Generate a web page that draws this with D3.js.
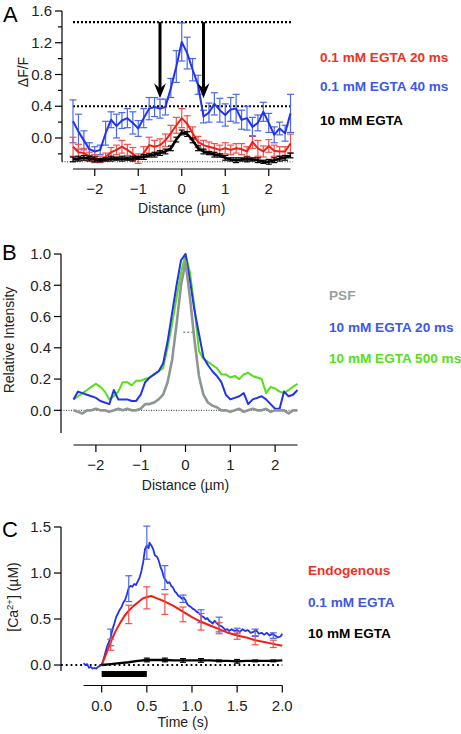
<!DOCTYPE html>
<html><head><meta charset="utf-8">
<script src="https://cdn.jsdelivr.net/npm/d3@7"></script>
<style>
body{margin:0;background:#fff;}
svg{display:block;font-family:"Liberation Sans",Arial,Helvetica,sans-serif;}
</style></head><body>
<svg id="c" width="461" height="734"></svg>
<script>
// ---------- Panel A data ----------
const distanceA = [-2.5,-2.375,-2.25,-2.125,-2.0,-1.875,-1.75,-1.625,-1.5,-1.375,-1.25,-1.125,-1.0,-0.875,-0.75,-0.625,-0.5,-0.375,-0.25,-0.125,0,0.125,0.25,0.375,0.5,0.625,0.75,0.875,1.0,1.125,1.25,1.375,1.5,1.625,1.75,1.875,2.0,2.125,2.25,2.375,2.5];
const blueA = [0.21,0.08,-0.03,-0.14,-0.17,-0.15,0.06,0.23,0.15,0.22,0.25,0.19,0.12,0.25,0.37,0.39,0.37,0.39,0.63,0.90,1.21,1.07,0.86,0.67,0.27,0.32,0.43,0.35,0.29,0.36,0.37,0.23,0.25,0.14,0.19,0.33,0.19,0.04,0.12,0.06,0.31];
const blueAErr = [0.27,0.22,0.12,0.08,0.06,0.06,0.15,0.10,0.15,0.10,0.12,0.14,0.10,0.12,0.14,0.12,0.12,0.10,0.12,0.20,0.24,0.20,0.14,0.12,0.08,0.12,0.14,0.15,0.14,0.15,0.18,0.12,0.15,0.12,0.10,0.12,0.12,0.10,0.08,0.10,0.24];
const redA = [-0.11,-0.18,-0.19,-0.23,-0.26,-0.27,-0.24,-0.18,-0.15,-0.11,-0.15,-0.20,-0.26,-0.19,-0.09,-0.11,-0.09,-0.03,0.06,0.16,0.25,0.18,0.06,-0.05,-0.09,-0.11,-0.13,-0.15,-0.13,-0.15,-0.13,-0.14,-0.17,-0.05,-0.13,-0.17,-0.10,-0.16,-0.17,-0.17,-0.07];
const redAErr = [0.12,0.10,0.06,0.05,0.05,0.04,0.05,0.06,0.06,0.08,0.07,0.08,0.06,0.08,0.10,0.08,0.08,0.08,0.10,0.10,0.12,0.10,0.08,0.07,0.06,0.06,0.06,0.06,0.07,0.06,0.06,0.07,0.06,0.08,0.10,0.07,0.08,0.07,0.06,0.06,0.12];
const blackA = [-0.27,-0.26,-0.25,-0.26,-0.27,-0.28,-0.27,-0.26,-0.26,-0.26,-0.26,-0.26,-0.25,-0.24,-0.22,-0.21,-0.19,-0.17,-0.13,-0.02,0.07,0.05,-0.03,-0.13,-0.17,-0.19,-0.21,-0.22,-0.25,-0.27,-0.28,-0.27,-0.27,-0.27,-0.28,-0.30,-0.30,-0.28,-0.26,-0.25,-0.22];
const blackAErr = [0.03,0.03,0.03,0.03,0.03,0.02,0.02,0.03,0.02,0.03,0.02,0.03,0.02,0.03,0.02,0.03,0.03,0.03,0.03,0.03,0.03,0.03,0.03,0.03,0.03,0.02,0.03,0.02,0.03,0.02,0.03,0.02,0.03,0.02,0.03,0.02,0.03,0.03,0.03,0.03,0.03];
const yTicksA = [1.6,1.2,0.8,0.4,0.0];
const yMinorA = [1.4,1.0,0.6,0.2,-0.2];
const xTicksAB = [-2,-1,0,1,2];
const refLinesA = [1.46,0.4];
const arrowsA = [-0.5,0.5];
const legendA = ["0.1 mM EGTA 20 ms","0.1 mM EGTA 40 ms","10 mM EGTA"];

// ---------- Panel B data ----------
const distanceB = [-2.5,-2.4,-2.3,-2.2,-2.1,-2.0,-1.9,-1.8,-1.7,-1.6,-1.5,-1.4,-1.3,-1.2,-1.1,-1.0,-0.9,-0.8,-0.7,-0.6,-0.5,-0.4,-0.3,-0.2,-0.1,0,0.1,0.2,0.3,0.4,0.5,0.6,0.7,0.8,0.9,1.0,1.1,1.2,1.3,1.4,1.5,1.6,1.7,1.8,1.9,2.0,2.1,2.2,2.3,2.4,2.5];
const psfB = [0.0,-0.01,-0.02,0.0,0.0,0.01,0.0,0.0,-0.01,0.0,0.01,0.0,0.01,0.0,0.0,0.01,0.04,0.04,0.05,0.07,0.10,0.18,0.32,0.55,0.80,0.95,0.72,0.45,0.22,0.10,0.05,0.03,0.02,0.0,0.0,-0.01,0.0,0.01,-0.01,0.0,0.01,0.0,0.0,0.01,-0.01,0.0,0.0,0.0,-0.02,0.0,0.0];
const blue20B = [0.07,0.12,0.11,0.10,0.09,0.08,0.06,0.05,0.04,0.13,0.07,0.07,0.07,0.06,0.06,0.10,0.18,0.21,0.23,0.25,0.30,0.44,0.62,0.80,0.96,1.00,0.83,0.64,0.49,0.34,0.29,0.25,0.22,0.18,0.10,0.07,0.08,0.09,0.11,0.04,0.07,0.08,0.09,0.07,0.04,0.01,0.01,0.12,0.09,0.10,0.13];
const green500B = [0.07,0.09,0.11,0.13,0.15,0.17,0.15,0.12,0.07,0.09,0.12,0.18,0.18,0.16,0.19,0.19,0.20,0.21,0.23,0.25,0.27,0.40,0.55,0.72,0.88,1.00,0.88,0.66,0.38,0.33,0.31,0.29,0.27,0.23,0.23,0.21,0.22,0.20,0.23,0.24,0.22,0.21,0.20,0.11,0.15,0.14,0.12,0.11,0.13,0.15,0.17];
const halfMaxB = [[-0.05,0.5],[0.2,0.5]];
const yTicksB = [1.0,0.8,0.6,0.4,0.2,0.0];
const legendB = ["PSF","10 mM EGTA 20 ms","10 mM EGTA 500 ms"];

// ---------- Panel C data ----------
const timeRed = [0,0.05,0.1,0.15,0.2,0.25,0.3,0.35,0.4,0.45,0.5,0.55,0.6,0.7,0.8,0.9,1.0,1.1,1.2,1.3,1.4,1.5,1.6,1.7,1.8,1.9,2.0];
const endoRed = [0.0,0.12,0.25,0.36,0.45,0.53,0.59,0.64,0.68,0.72,0.74,0.75,0.73,0.69,0.64,0.58,0.52,0.47,0.43,0.39,0.35,0.32,0.30,0.27,0.25,0.23,0.21];
const errTimeC = [0.1,0.3,0.5,0.7,0.9,1.1,1.3,1.5,1.7,1.9];
const redErrMean = [0.22,0.55,0.73,0.66,0.55,0.47,0.40,0.32,0.27,0.23];
const redErr = [0.06,0.10,0.12,0.11,0.08,0.09,0.06,0.04,0.05,0.04];
const blueErrMean = [0.30,0.83,1.33,0.95,0.72,0.53,0.44,0.37,0.35,0.32];
const blueErr = [0.09,0.14,0.18,0.13,0.04,0.07,0.08,0.03,0.04,0.03];
const timeBlue = [-0.20,-0.18,-0.16,-0.14,-0.12,-0.10,-0.08,-0.06,-0.04,-0.02,0.00,0.02,0.04,0.06,0.08,0.10,0.12,0.14,0.16,0.18,0.20,0.22,0.24,0.26,0.28,0.30,0.32,0.34,0.36,0.38,0.40,0.42,0.44,0.46,0.48,0.50,0.52,0.53,0.55,0.57,0.59,0.61,0.63,0.65,0.67,0.69,0.71,0.73,0.75,0.77,0.79,0.81,0.83,0.85,0.87,0.89,0.91,0.93,0.95,0.97,0.99,1.01,1.03,1.05,1.07,1.09,1.11,1.13,1.15,1.17,1.19,1.21,1.23,1.25,1.27,1.29,1.31,1.33,1.35,1.37,1.39,1.41,1.44,1.47,1.50,1.53,1.56,1.59,1.62,1.65,1.68,1.71,1.74,1.77,1.80,1.83,1.86,1.89,1.92,1.95,1.98,2.00];
const egta01Blue = [0.02,0.00,0.01,-0.03,-0.02,-0.04,-0.03,-0.04,-0.02,-0.01,0.00,0.06,0.13,0.20,0.25,0.30,0.39,0.45,0.52,0.56,0.60,0.63,0.68,0.71,0.77,0.84,0.86,0.85,0.88,0.87,0.91,0.95,1.02,1.12,1.26,1.30,1.27,1.33,1.30,1.26,1.19,1.18,1.14,1.07,1.02,0.95,0.92,0.89,0.90,0.86,0.84,0.80,0.78,0.75,0.74,0.72,0.73,0.70,0.66,0.64,0.63,0.61,0.60,0.58,0.57,0.55,0.53,0.52,0.50,0.51,0.48,0.47,0.45,0.48,0.46,0.44,0.43,0.42,0.40,0.38,0.39,0.37,0.39,0.37,0.38,0.36,0.39,0.37,0.38,0.35,0.36,0.38,0.34,0.35,0.33,0.35,0.32,0.34,0.32,0.30,0.31,0.34];
const timeBlack = [0,0.1,0.2,0.3,0.4,0.5,0.6,0.7,0.8,0.9,1.0,1.1,1.2,1.3,1.4,1.5,1.6,1.7,1.8,1.9,2.0];
const egta10Black = [0,0.01,0.02,0.03,0.045,0.055,0.055,0.055,0.05,0.05,0.05,0.05,0.05,0.045,0.045,0.04,0.045,0.045,0.045,0.045,0.05];
const blackErrTime = [0.5,0.7,0.9,1.1,1.3,1.5,1.7,1.9];
const blackErrMean = [0.055,0.055,0.05,0.05,0.045,0.04,0.045,0.045];
const blackErr = [0.02,0.02,0.02,0.02,0.01,0.02,0.01,0.01];
const stimulus = [0,0.5];
const yTicksC = [1.5,1.0,0.5,0.0];
const xTicksC = [0.0,0.5,1.0,1.5,2.0];
const legendC = ["Endogenous","0.1 mM EGTA","10 mM EGTA"];

// ---------- colours ----------
const C_BLUE = "#2233ea", C_BLUE_T = "#3b58ea", C_BLUE_E = "#4a68ee";
const C_RED = "#f01e14", C_RED_T = "#f3301e", C_RED_E = "#f2504a";
const C_GREEN = "#55e014", C_GRAY = "#8d9595", C_GRAY_T = "#9a9e9e";
const FS = 15, FT = 14, FL = 13.6;

const svg = d3.select("#c");

function yAxis(g, y, x0, ticks, fmt, minor){
  g.append("line").attr("x1",x0).attr("x2",x0).attr("y1",y.range()[1]).attr("y2",y.range()[0]).attr("stroke","#000").attr("stroke-width",1.2);
  ticks.forEach(v=>{
    g.append("line").attr("x1",x0-7).attr("x2",x0).attr("y1",y(v)).attr("y2",y(v)).attr("stroke","#000").attr("stroke-width",1.2);
    g.append("text").attr("x",x0-10).attr("y",y(v)).attr("dy","0.35em").attr("text-anchor","end").attr("font-size",FS).attr("fill","#222").text(fmt(v));
  });
  (minor||[]).forEach(v=>{
    g.append("line").attr("x1",x0-4).attr("x2",x0).attr("y1",y(v)).attr("y2",y(v)).attr("stroke","#000").attr("stroke-width",1.2);
  });
}
function xAxis(g, x, yLine, ticks, fmt){
  g.append("line").attr("x1",x.range()[0]).attr("x2",x.range()[1]).attr("y1",yLine).attr("y2",yLine).attr("stroke","#000").attr("stroke-width",1.2);
  ticks.forEach(v=>{
    g.append("line").attr("x1",x(v)).attr("x2",x(v)).attr("y1",yLine).attr("y2",yLine+7).attr("stroke","#000").attr("stroke-width",1.2);
    g.append("text").attr("x",x(v)).attr("y",yLine+25).attr("text-anchor","middle").attr("font-size",FS).attr("fill","#222").text(fmt(v));
  });
}
function errBars(g, x, y, xs, ms, es, color, w, cap){
  xs.forEach((xv,i)=>{
    const px = x(xv), top = y(ms[i]+es[i]), bot = y(ms[i]-es[i]);
    g.append("line").attr("x1",px).attr("x2",px).attr("y1",top).attr("y2",bot).attr("stroke",color).attr("stroke-width",w);
    g.append("line").attr("x1",px-cap).attr("x2",px+cap).attr("y1",top).attr("y2",top).attr("stroke",color).attr("stroke-width",w);
    g.append("line").attr("x1",px-cap).attr("x2",px+cap).attr("y1",bot).attr("y2",bot).attr("stroke",color).attr("stroke-width",w);
  });
}
function line(g, x, y, xs, ys, color, w){
  g.append("path").datum(xs.map((v,i)=>[v,ys[i]]))
    .attr("d", d3.line().x(d=>x(d[0])).y(d=>y(d[1])))
    .attr("fill","none").attr("stroke",color).attr("stroke-width",w).attr("stroke-linejoin","round");
}
function legend(g, x0, ys, labels, colors){
  labels.forEach((t,i)=>g.append("text").attr("x",x0).attr("y",ys[i]).attr("dy","0.35em").attr("font-size",FL).attr("font-weight","bold").attr("fill",colors[i]).text(t));
}
function panelLabel(t, x, y){ svg.append("text").attr("x",x).attr("y",y).attr("font-size",22).text(t); }

// ================= Panel A =================
{
  const g = svg.append("g");
  const x = d3.scaleLinear().domain([-2.5,2.5]).range([73,290.5]);
  const y = d3.scaleLinear().domain([-0.3,1.6]).range([161.8,11]);
  yAxis(g, y, 62, yTicksA, d3.format(".1f"), yMinorA);
  xAxis(g, x, 169, xTicksAB, d3.format("d"));
  g.append("text").attr("x",x(0)).attr("y",213).attr("text-anchor","middle").attr("font-size",FT).attr("fill","#222").text("Distance (µm)");
  g.append("text").attr("transform","translate(28,72) rotate(-90)").attr("text-anchor","middle").attr("font-size",FT).attr("fill","#222").text("ΔF/F");
  g.append("line").attr("x1",62).attr("x2",x(2.5)+2).attr("y1",y(-0.3)).attr("y2",y(-0.3)).attr("stroke","#000").attr("stroke-width",0.8).attr("stroke-dasharray","1,1.5");
  refLinesA.forEach(v=>g.append("line").attr("x1",x(-2.5)).attr("x2",x(2.5)+2).attr("y1",y(v)).attr("y2",y(v)).attr("stroke","#000").attr("stroke-width",2.2).attr("stroke-dasharray","2,2"));
  errBars(g, x, y, distanceA, blueA, blueAErr, C_BLUE_E, 1.2, 3.5);
  line(g, x, y, distanceA, blueA, C_BLUE, 2);
  errBars(g, x, y, distanceA, redA, redAErr, C_RED_E, 1.2, 3.5);
  line(g, x, y, distanceA, redA, C_RED, 2);
  errBars(g, x, y, distanceA, blackA, blackAErr, "#000", 1.2, 3);
  line(g, x, y, distanceA, blackA, "#000", 2.6);
  arrowsA.forEach(v=>{
    const px = x(v), tip = y(0.5);
    g.append("line").attr("x1",px).attr("x2",px).attr("y1",y(1.46)).attr("y2",tip-10).attr("stroke","#000").attr("stroke-width",3);
    g.append("path").attr("d",`M${px-6},${tip-15} L${px},${tip} L${px+6},${tip-15} L${px},${tip-10} Z`).attr("fill","#000");
  });
  legend(g, 320, [57,86,120], legendA, [C_RED_T, C_BLUE_T, "#000"]);
}
panelLabel("A", 3, 22);

// ================= Panel B =================
{
  const g = svg.append("g");
  const x = d3.scaleLinear().domain([-2.5,2.5]).range([73.5,297.5]);
  const y = d3.scaleLinear().domain([-0.145,1.0]).range([433,254]);
  yAxis(g, y, 61, yTicksB, d3.format(".1f"));
  xAxis(g, x, 445, xTicksAB, d3.format("d"));
  g.append("text").attr("x",x(0)).attr("y",490).attr("text-anchor","middle").attr("font-size",FT).attr("fill","#222").text("Distance (µm)");
  g.append("text").attr("transform","translate(14,340) rotate(-90)").attr("text-anchor","middle").attr("font-size",FT).attr("fill","#222").text("Relative Intensity");
  g.append("line").attr("x1",61).attr("x2",x(2.5)).attr("y1",y(0)).attr("y2",y(0)).attr("stroke","#000").attr("stroke-width",0.8).attr("stroke-dasharray","1,1.5");
  line(g, x, y, distanceB, green500B, C_GREEN, 2);
  line(g, x, y, distanceB, blue20B, C_BLUE, 2);
  line(g, x, y, distanceB, psfB, C_GRAY, 2.6);
  g.append("line").attr("x1",x(halfMaxB[0][0])).attr("x2",x(halfMaxB[1][0])).attr("y1",y(halfMaxB[0][1])).attr("y2",y(halfMaxB[1][1])).attr("stroke",C_GRAY).attr("stroke-width",1.5).attr("stroke-dasharray","2,2");
  legend(g, 329, [295,327,358], legendB, [C_GRAY_T, C_BLUE_T, C_GREEN]);
}
panelLabel("B", 2, 260);

// ================= Panel C =================
{
  const g = svg.append("g");
  const x = d3.scaleLinear().domain([-0.2,2.0]).range([83.6,282.3]);
  const y = d3.scaleLinear().domain([-0.065,1.5]).range([671,527]);
  yAxis(g, y, 61, yTicksC, d3.format(".1f"));
  xAxis(g, x, 685.5, xTicksC, d3.format(".1f"));
  g.append("text").attr("x",x(0.9)).attr("y",727).attr("text-anchor","middle").attr("font-size",FT).attr("fill","#222").text("Time (s)");
  const yl = g.append("text").attr("transform","translate(18,597) rotate(-90)").attr("text-anchor","middle").attr("font-size",FT).attr("fill","#222");
  yl.append("tspan").text("[Ca");
  yl.append("tspan").attr("font-size",9.5).attr("dy",-5).text("2+");
  yl.append("tspan").attr("dy",5).text("]  (µM)");
  g.append("line").attr("x1",61).attr("x2",x(2.0)).attr("y1",y(0)).attr("y2",y(0)).attr("stroke","#000").attr("stroke-width",1.8).attr("stroke-dasharray","1.8,3");
  g.append("rect").attr("x",x(stimulus[0])).attr("y",671).attr("width",x(stimulus[1])-x(stimulus[0])).attr("height",6).attr("fill","#000");
  line(g, x, y, timeBlue, egta01Blue, C_BLUE, 1.8);
  errBars(g, x, y, errTimeC, blueErrMean, blueErr, C_BLUE_E, 1.2, 3.5);
  line(g, x, y, timeRed, endoRed, C_RED, 2);
  errBars(g, x, y, errTimeC, redErrMean, redErr, C_RED_E, 1.2, 3.5);
  line(g, x, y, timeBlack, egta10Black, "#000", 2.4);
  errBars(g, x, y, blackErrTime, blackErrMean, blackErr, "#000", 1.2, 3);
  legend(g, 308, [570,602,633], legendC, [C_RED_T, C_BLUE_T, "#000"]);
}
panelLabel("C", 2, 537);
</script>
</body></html>
